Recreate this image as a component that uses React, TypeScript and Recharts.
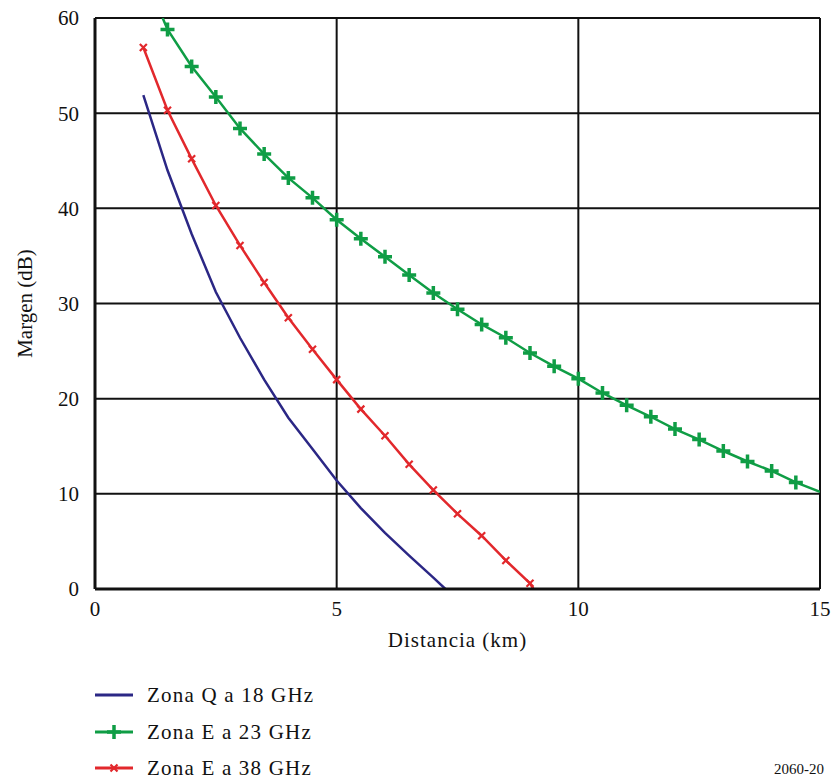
import React from 'react';
import {
  LineChart,
  Line,
  XAxis,
  YAxis,
  CartesianGrid,
} from 'recharts';

// Zona Q a 18 GHz (no markers)
const blueDist = [1.0, 1.5, 2.0, 2.5, 3.0, 3.5, 4.0, 4.5, 5.0, 5.5, 6.0, 6.5, 7.0, 7.25];
const blueMargin = [51.9, 44.0, 37.3, 31.2, 26.4, 22.0, 18.0, 14.7, 11.4, 8.5, 5.9, 3.5, 1.2, 0];

// Zona E a 23 GHz (first/last points are line ends without marker)
const greenDist = [
  1.4, 1.5, 2.0, 2.5, 3.0, 3.5, 4.0, 4.5, 5.0, 5.5, 6.0, 6.5, 7.0, 7.5, 8.0, 8.5,
  9.0, 9.5, 10.0, 10.5, 11.0, 11.5, 12.0, 12.5, 13.0, 13.5, 14.0, 14.5, 15.0,
];
const greenMargin = [
  60, 58.8, 54.9, 51.7, 48.4, 45.7, 43.2, 41.1, 38.8, 36.8, 34.9, 33.0, 31.1, 29.4, 27.8, 26.4,
  24.8, 23.4, 22.1, 20.6, 19.3, 18.1, 16.8, 15.7, 14.5, 13.4, 12.4, 11.2, 10.2,
];

// Zona E a 38 GHz (last point is line end without marker)
const redDist = [1.0, 1.5, 2.0, 2.5, 3.0, 3.5, 4.0, 4.5, 5.0, 5.5, 6.0, 6.5, 7.0, 7.5, 8.0, 8.5, 9.0, 9.07];
const redMargin = [56.9, 50.3, 45.2, 40.3, 36.1, 32.2, 28.5, 25.2, 22.0, 18.9, 16.1, 13.1, 10.4, 7.9, 5.6, 3.0, 0.6, 0];

const xTicks = [0, 5, 10, 15];
const yTicks = [0, 10, 20, 30, 40, 50, 60];

const BLUE = '#2b2785';
const GREEN = '#0f9d45';
const RED = '#e2282c';
const FONT = "'Liberation Serif', 'Times New Roman', Tinos, 'DejaVu Serif', serif";

const toRows = (xs: number[], ys: number[]) =>
  xs.map((d, i) => ({ d, m: ys[i], mark: Number.isInteger(d * 2) }));

const blueData = toRows(blueDist, blueMargin);
const greenData = toRows(greenDist, greenMargin).map((r, i, a) => ({
  ...r,
  mark: r.mark && i > 0 && i < a.length - 1,
}));
const redData = toRows(redDist, redMargin);

const PlusDot = (props: any) => {
  const { cx, cy, payload, index } = props;
  if (!payload?.mark || cx == null) return <g key={index} />;
  return (
    <path
      key={index}
      d={`M${cx - 7},${cy}H${cx + 7}M${cx},${cy - 7}V${cy + 7}`}
      stroke={GREEN}
      strokeWidth={3.5}
    />
  );
};

const CrossDot = (props: any) => {
  const { cx, cy, payload, index } = props;
  if (!payload?.mark || cx == null) return <g key={index} />;
  return (
    <path
      key={index}
      d={`M${cx - 3.5},${cy - 3.5}L${cx + 3.5},${cy + 3.5}M${cx - 3.5},${cy + 3.5}L${cx + 3.5},${cy - 3.5}`}
      stroke={RED}
      strokeWidth={2.2}
    />
  );
};

const legendItems = [
  { label: 'Zona Q a 18 GHz', color: BLUE, marker: 'none' },
  { label: 'Zona E a 23 GHz', color: GREEN, marker: 'plus' },
  { label: 'Zona E a 38 GHz', color: RED, marker: 'cross' },
];

export default function App() {
  const textStyle = { fill: '#111', fontSize: 21, fontFamily: FONT };
  return (
    <div
      style={{
        position: 'relative',
        width: 838,
        height: 780,
        overflow: 'hidden',
        background: '#fff',
        fontFamily: FONT,
      }}
    >
      <style>{'html,body{margin:0;padding:0;overflow:hidden;}'}</style>
      <LineChart
        width={838}
        height={780}
        margin={{ top: 18, right: 18, left: 0, bottom: 119 }}
        style={{ fontFamily: FONT }}
      >
        <CartesianGrid stroke="#111" strokeWidth={2} horizontalValues={yTicks} verticalValues={xTicks} />
        <XAxis
          type="number"
          dataKey="d"
          domain={[0, 15]}
          ticks={xTicks}
          allowDataOverflow
          tickLine={false}
          tickSize={0}
          tickMargin={12}
          height={72}
          stroke="#111"
          strokeWidth={3}
          tick={textStyle}
          label={{ value: 'Distancia (km)', position: 'insideBottom', offset: 14, style: { ...textStyle, letterSpacing: 1 } }}
        />
        <YAxis
          type="number"
          dataKey="m"
          domain={[0, 60]}
          ticks={yTicks}
          allowDataOverflow
          tickLine={false}
          tickSize={0}
          tickMargin={16}
          width={95}
          stroke="#111"
          strokeWidth={3}
          tick={textStyle}
          label={{ value: 'Margen (dB)', angle: -90, position: 'center', dx: -23, style: textStyle }}
        />
        <Line
          data={blueData}
          dataKey="m"
          type="linear"
          stroke={BLUE}
          strokeWidth={2.5}
          dot={false}
          activeDot={false}
          isAnimationActive={false}
        />
        <Line
          data={redData}
          dataKey="m"
          type="linear"
          stroke={RED}
          strokeWidth={2.5}
          dot={CrossDot}
          activeDot={false}
          isAnimationActive={false}
        />
        <Line
          data={greenData}
          dataKey="m"
          type="linear"
          stroke={GREEN}
          strokeWidth={2.5}
          dot={PlusDot}
          activeDot={false}
          isAnimationActive={false}
        />
      </LineChart>
      <div style={{ position: 'absolute', left: 95, top: 676 }}>
        {legendItems.map((it, i) => (
          <div key={it.label} style={{ display: 'flex', alignItems: 'center', height: i === 0 ? 38 : 36 }}>
            <svg width={52} height={20}>
              <line x1={0} y1={10} x2={38} y2={10} stroke={it.color} strokeWidth={3} />
              {it.marker === 'plus' && (
                <path d="M12,10H26M19,3V17" stroke={it.color} strokeWidth={3.5} />
              )}
              {it.marker === 'cross' && (
                <path d="M15.5,6.5L22.5,13.5M15.5,13.5L22.5,6.5" stroke={it.color} strokeWidth={2.2} />
              )}
            </svg>
            <span style={{ fontSize: 21, lineHeight: '24px', color: '#111', letterSpacing: 1.2 }}>{it.label}</span>
          </div>
        ))}
      </div>
      <div style={{ position: 'absolute', left: 774, top: 760, fontSize: 15, lineHeight: '18px', color: '#111' }}>
        2060-20
      </div>
    </div>
  );
}
